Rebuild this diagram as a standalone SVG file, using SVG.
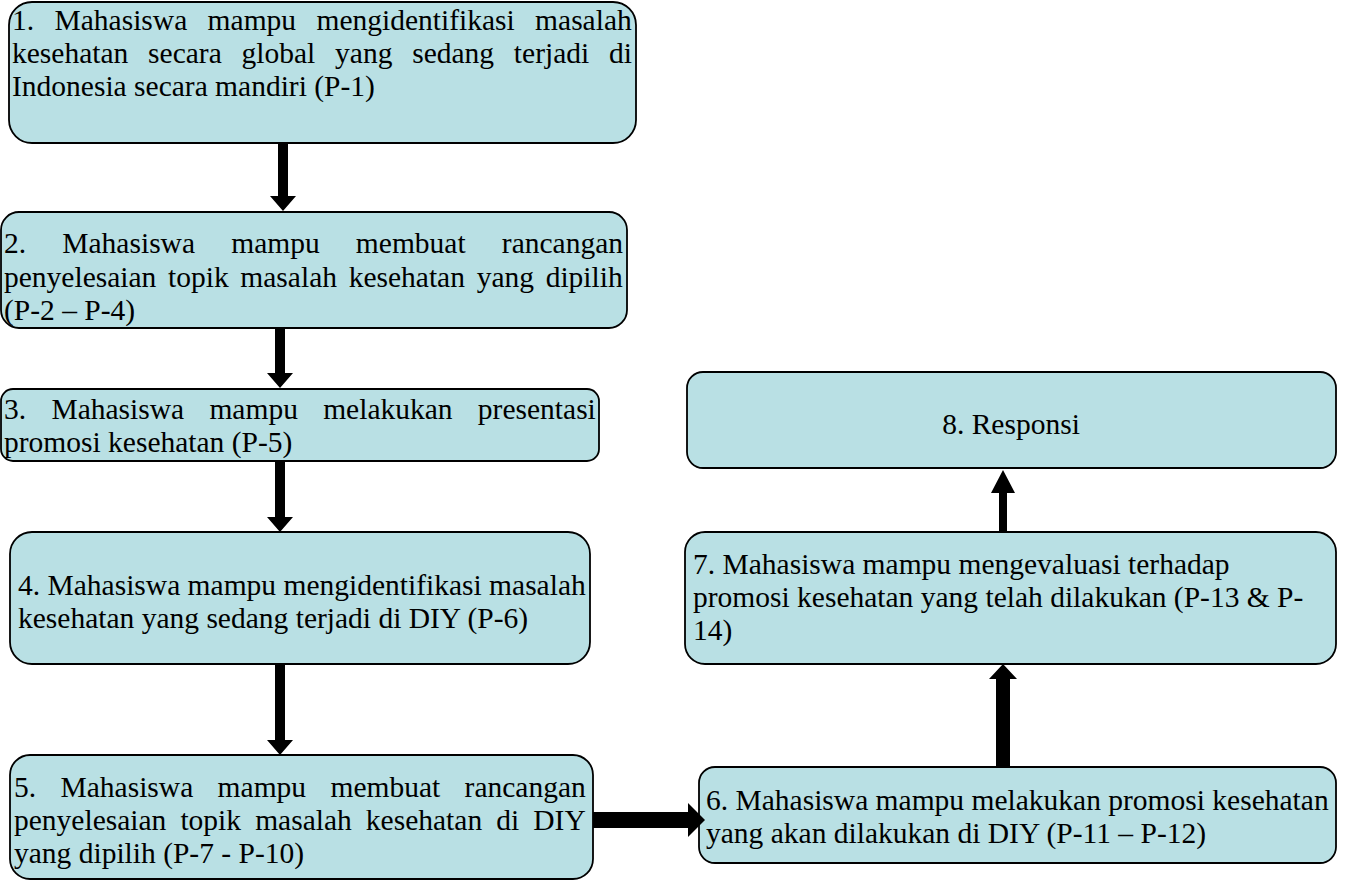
<svg xmlns="http://www.w3.org/2000/svg" width="1347" height="888" viewBox="0 0 1347 888">
<style>
.box{fill:#b9e0e4;stroke:#000;stroke-width:1.8}
.t{font-family:"Liberation Serif","Times New Roman",serif;font-size:29.5px;fill:#000}
.arr{fill:#000}
</style>
<rect width="1347" height="888" fill="#fff"/>
<g id="node1">
<rect class="box" x="9" y="2" width="627" height="141" rx="23"/>
<text class="t" x="12" y="30" style="word-spacing:13px">1. Mahasiswa mampu mengidentifikasi masalah</text>
<text class="t" x="12" y="63" style="word-spacing:12.4px">kesehatan secara global yang sedang terjadi di</text>
<text class="t" x="12" y="96">Indonesia secara mandiri (P-1)</text>
</g>
<g id="node2">
<rect class="box" x="1" y="212" width="626" height="116" rx="18"/>
<text class="t" x="4" y="253" style="word-spacing:28.8px">2. Mahasiswa mampu membuat rancangan</text>
<text class="t" x="4" y="287" style="word-spacing:4.3px">penyelesaian topik masalah kesehatan yang dipilih</text>
<text class="t" x="4" y="320">(P-2 – P-4)</text>
</g>
<g id="node3">
<rect class="box" x="1" y="389" width="598" height="72" rx="12"/>
<text class="t" x="4" y="419" style="word-spacing:17.9px">3. Mahasiswa mampu melakukan presentasi</text>
<text class="t" x="4" y="452">promosi kesehatan (P-5)</text>
</g>
<g id="node4">
<rect class="box" x="10" y="532" width="580" height="132" rx="22"/>
<text class="t" x="18" y="595">4. Mahasiswa mampu mengidentifikasi masalah</text>
<text class="t" x="18" y="628">kesehatan yang sedang terjadi di DIY (P-6)</text>
</g>
<g id="node5">
<rect class="box" x="10" y="755" width="583" height="124" rx="20"/>
<text class="t" x="14" y="797" style="word-spacing:17px">5. Mahasiswa mampu membuat rancangan</text>
<text class="t" x="14" y="830" style="word-spacing:6.7px">penyelesaian topik masalah kesehatan di DIY</text>
<text class="t" x="14" y="863">yang dipilih (P-7 - P-10)</text>
</g>
<g id="node6">
<rect class="box" x="699" y="767" width="637" height="96" rx="16"/>
<text class="t" x="706" y="810">6. Mahasiswa mampu melakukan promosi kesehatan</text>
<text class="t" x="706" y="843">yang akan dilakukan di DIY (P-11 – P-12)</text>
</g>
<g id="node7">
<rect class="box" x="685" y="532" width="651" height="132" rx="20"/>
<text class="t" x="693" y="574">7. Mahasiswa mampu mengevaluasi terhadap</text>
<text class="t" x="693" y="607">promosi kesehatan yang telah dilakukan (P-13 &amp; P-</text>
<text class="t" x="693" y="640">14)</text>
</g>
<g id="node8">
<rect class="box" x="687" y="372" width="649" height="96" rx="16"/>
<text class="t" x="1011" y="434" text-anchor="middle">8. Responsi</text>
</g>
<g id="connectors">
<polygon class="arr" points="278,144 288,144 288,196 296,196 283,211 270,196 278,196"/>
<polygon class="arr" points="275,329 285,329 285,373 293,373 280,388 267,373 275,373"/>
<polygon class="arr" points="275,462 285,462 285,517 293,517 280,532 267,517 275,517"/>
<polygon class="arr" points="275,665 285,665 285,740 293,740 280,755 267,740 275,740"/>
<polygon class="arr" points="593,812 688,812 688,803 705,820 688,837 688,828 593,828"/>
<polygon class="arr" points="996,767 1010,767 1010,679 1017,679 1003,664 989,679 996,679"/>
<polygon class="arr" points="999,531 1007,531 1007,493 1015,493 1003,470 991,493 999,493"/>
</g>
</svg>
